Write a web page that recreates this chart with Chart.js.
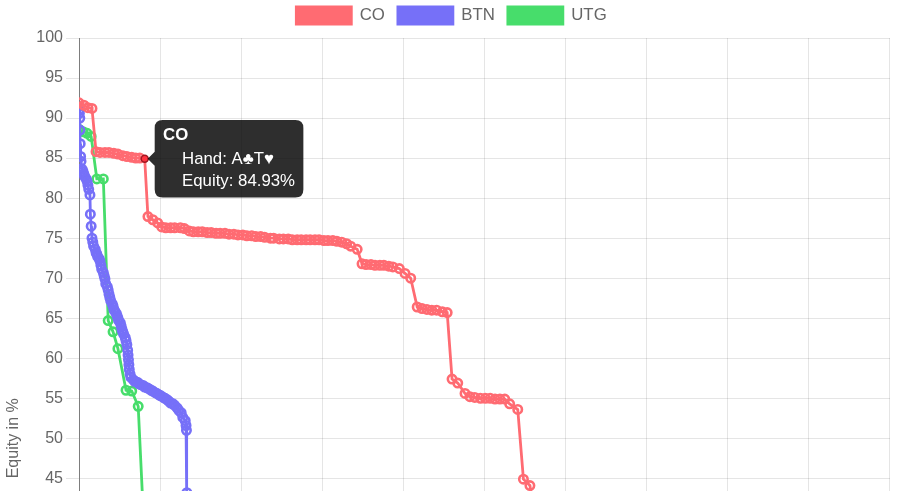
<!DOCTYPE html>
<html>
<head>
<meta charset="utf-8">
<script src="https://cdn.jsdelivr.net/npm/chart.js@4.4.1/dist/chart.umd.min.js"></script>
<style>
  html, body { margin: 0; padding: 0; background: #fff; overflow: hidden; }
  #wrap { width: 903px; height: 872px; }
</style>
</head>
<body>
<div id="wrap"><canvas id="c"></canvas></div>
<script>
// equity of each hand in the range, sorted high to low; x = % of hands
const seriesNames = ['CO', 'BTN', 'UTG'];
const seriesColors = ['#ff6b72', '#7670f8', '#47dd6b'];

const coX = [0, 0.6, 1.1, 1.6, 2.1, 2.6, 3.2, 3.7, 4.3, 4.8, 5.4, 5.9, 6.5, 7.0, 7.5, 8.1,
  8.5, 9.1, 9.7, 10.2, 10.7, 11.3, 11.8, 12.5, 13.0, 13.6, 14.1, 14.7, 15.2, 15.8, 16.3, 16.9,
  17.4, 18.0, 18.5, 19.1, 19.6, 20.2, 20.7, 21.3, 21.8, 22.4, 22.9, 23.6, 24.0, 24.7, 25.2, 25.8,
  26.3, 26.9, 27.4, 28.0, 28.5, 29.1, 29.6, 30.2, 30.7, 31.3, 31.8, 32.4, 33.0, 33.5, 34.3,
  34.9, 35.4, 36.0, 36.5, 37.1, 37.6, 38.2, 38.7, 39.5, 40.2, 40.9,
  41.7, 42.3, 42.9, 43.5, 44.1, 44.8, 45.4,
  46.0, 46.7, 47.6, 48.2, 48.8, 49.5, 50.1, 50.7, 51.3, 51.9, 52.5, 53.1, 54.1,
  54.8, 55.6, 56.2];
const coY = [91.9, 91.6, 91.3, 91.2, 85.8, 85.7, 85.7, 85.7, 85.6, 85.5, 85.3, 85.2, 85.1, 85.0, 85.0, 84.93,
  77.7, 77.3, 76.9, 76.4, 76.3, 76.3, 76.3, 76.3, 76.2, 75.9, 75.8, 75.8, 75.8, 75.7, 75.7, 75.6,
  75.6, 75.6, 75.5, 75.5, 75.4, 75.4, 75.3, 75.3, 75.2, 75.2, 75.1, 75.0, 75.0, 74.9, 74.9, 74.9,
  74.8, 74.8, 74.8, 74.8, 74.8, 74.8, 74.8, 74.7, 74.7, 74.7, 74.6, 74.5, 74.3, 74.0, 73.6,
  71.8, 71.7, 71.7, 71.6, 71.6, 71.6, 71.5, 71.4, 71.2, 70.6, 70.0,
  66.4, 66.2, 66.1, 66.0, 66.0, 65.8, 65.7,
  57.4, 56.9, 55.6, 55.2, 55.1, 55.0, 55.0, 55.0, 54.9, 54.9, 54.9, 54.3, 53.6,
  44.9, 44.1, 40.0];

const btnX = [0, 0.05, 0.1, 0.12, 0.15, 0.2, 0.25, 0.4, 0.5, 0.6, 0.7, 0.9, 1.0, 1.1, 1.2, 1.35,
  1.4, 1.5, 1.6, 1.7, 1.8, 2.0, 2.1, 2.2, 2.3, 2.5, 2.6, 2.7, 2.8, 3.0, 3.1, 3.2, 3.3, 3.5, 3.6,
  3.7, 3.8, 3.9, 4.1, 4.2, 4.3, 4.4, 4.6, 4.7, 4.8, 4.9, 5.1, 5.2, 5.3, 5.4, 5.5, 5.7, 5.8, 5.9,
  6.0, 6.05, 6.1, 6.15, 6.2, 6.3, 6.4, 6.7, 6.9, 7.2, 7.4, 7.6, 7.9, 8.1, 8.4, 8.6, 8.9, 9.1,
  9.4, 9.6, 9.9, 10.1, 10.4, 10.6, 10.9, 11.1, 11.3, 11.6, 11.8, 12.1, 12.3, 12.6, 12.8, 13.1,
  13.2, 13.25, 13.3, 13.35];
const btnY = [91.0, 90.6, 90.0, 88.5, 86.8, 85.2, 84.6, 83.6, 83.3, 83.0, 82.7, 82.4, 82.1, 81.6, 81.1, 80.4,
  78.0, 76.5, 75.0, 74.5, 74.0, 73.6, 73.2, 73.0, 72.7, 72.4, 72.1, 71.6, 71.1, 70.7, 70.3, 69.9, 69.3, 68.9, 68.5,
  68.0, 67.6, 67.2, 66.8, 66.5, 66.1, 65.9, 65.6, 65.3, 65.0, 64.7, 64.4, 64.0, 63.6, 63.3, 63.0, 62.6, 62.2, 61.7,
  61.0, 60.4, 59.8, 59.2, 58.6, 58.0, 57.6, 57.3, 57.1, 57.0, 56.8, 56.7, 56.6, 56.4, 56.3, 56.2, 56.0, 55.9,
  55.7, 55.6, 55.4, 55.3, 55.1, 55.0, 54.8, 54.6, 54.4, 54.3, 54.1, 53.8, 53.5, 53.2, 52.6, 52.2,
  51.6, 51.0, 43.2, 38.0];

const utgX = [0, 0.5, 1.0, 1.5, 2.2, 3.0, 3.6, 4.2, 4.8, 5.8, 6.5, 7.3, 8.0];
const utgY = [88.6, 88.3, 88.1, 87.7, 82.4, 82.4, 64.7, 63.3, 61.2, 56.0, 55.9, 54.0, 39.0];

const yTicks = { min: 0, max: 100, step: 5 };
const xTicks = { min: 0, max: 100, step: 10 };

// the hovered hand shown in the tooltip
const shownSeries = 0, shownIndex = 15, shownHand = 'A♣T♥';

const pts = (xs, ys) => xs.map((x, i) => ({ x, y: ys[i] }));
const allX = [coX, btnX, utgX], allY = [coY, btnY, utgY];

Chart.defaults.font.family = "'Helvetica Neue', Helvetica, Arial, 'Liberation Sans', sans-serif";
Chart.defaults.font.size = 16;
Chart.defaults.color = '#666';

// a bit more room between legend and plot
const legendGap = {
  id: 'legendGap',
  beforeInit(chart) {
    const fit = chart.legend.fit;
    chart.legend.fit = function () { fit.call(this); this.height += 4; };
  },
};

const chart = new Chart(document.getElementById('c'), {
  type: 'line',
  plugins: [legendGap],
  data: {
    datasets: seriesNames.map((n, k) => ({
      label: n,
      data: pts(allX[k], allY[k]),
      borderColor: seriesColors[k],
      backgroundColor: seriesColors[k],
      borderWidth: 2.8,
      pointRadius: 4.2,
      pointBorderWidth: 2.6,
      pointBackgroundColor: 'rgba(255,255,255,0)',
      pointHoverRadius: 3.5,
      pointHoverBorderWidth: 1.5,
      pointHoverBackgroundColor: '#ff3340',
      pointHoverBorderColor: '#a01822',
      tension: 0,
      fill: false,
    })),
  },
  options: {
    responsive: true, maintainAspectRatio: false, animation: false,
    layout: { padding: { top: -6 } },
    plugins: {
      legend: { labels: { boxWidth: 55, boxHeight: 17, padding: 13, font: { size: 16.8 } } },
      tooltip: {
        backgroundColor: 'rgba(0,0,0,0.82)',
        titleFont: { size: 16.8, weight: 'bold' },
        bodyFont: { size: 16.8 },
        padding: { left: 8.4, right: 8.4, top: 5, bottom: 6 },
        cornerRadius: 8, caretSize: 7, caretPadding: 3,
        titleMarginBottom: 4, bodySpacing: 2, boxWidth: 17, boxHeight: 17,
        multiKeyBackground: 'rgba(0,0,0,0)',
        callbacks: {
          title: items => items[0].dataset.label,
          label: c => [`Hand: ${shownHand}`, `Equity: ${c.parsed.y.toFixed(2)}%`],
          labelColor: () => ({ borderColor: 'rgba(0,0,0,0)', backgroundColor: 'rgba(0,0,0,0)' }),
        },
      },
    },
    scales: {
      x: {
        type: 'linear', min: xTicks.min, max: xTicks.max,
        ticks: { stepSize: xTicks.step, font: { size: 12 } },
        grid: { color: c => c.tick && c.tick.value === 0 ? 'rgba(0,0,0,0.3)' : 'rgba(0,0,0,0.1)', tickLength: 13 },
      },
      y: {
        min: yTicks.min, max: yTicks.max,
        ticks: { stepSize: yTicks.step, padding: 3 },
        grid: { color: 'rgba(0,0,0,0.1)', tickLength: 13 },
        border: { color: 'rgba(0,0,0,0.3)' },
        title: { display: true, text: 'Equity in %' },
        afterFit: s => { s.width = 79; },
      },
    },
  },
});

const act = [{ datasetIndex: shownSeries, index: shownIndex }];
chart.setActiveElements(act);
chart.tooltip.setActiveElements(act, { x: 0, y: 0 });
chart.update();
</script>
</body>
</html>
